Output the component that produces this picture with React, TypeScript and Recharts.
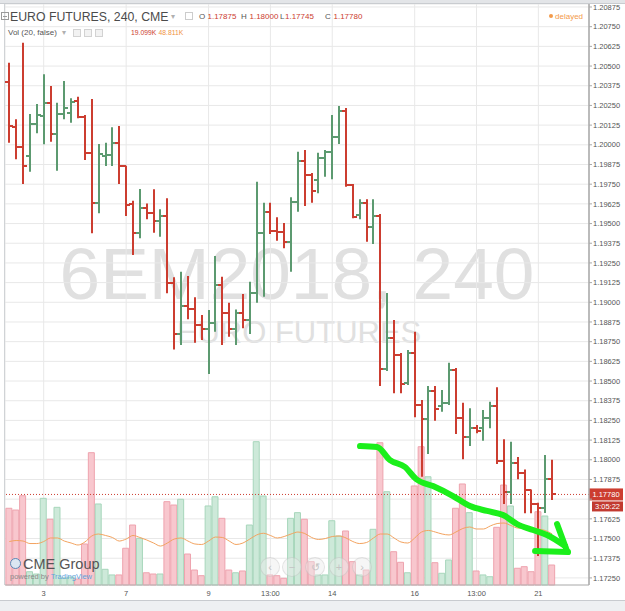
import React from "react";
import {
  ComposedChart,
  Bar,
  Line,
  XAxis,
  YAxis,
  CartesianGrid,
  ReferenceLine,
  Cell,
} from "recharts";

// 6EM2018 (Euro FX June 2018), 240-minute bars
const opens = [
  1.20401, 1.20115, 1.19988, 1.19929, 1.20132, 1.20183, 1.20267, 1.20069, 1.20196, 1.20204,
  1.20278, 1.20175, 1.1995, 1.19628, 1.19932, 1.19935, 1.20013, 1.19865, 1.19622, 1.19442,
  1.19597, 1.19565, 1.19518, 1.19548, 1.1912, 1.18799, 1.18976, 1.18955, 1.18856, 1.18828,
  1.1887, 1.1911, 1.1893, 1.18828, 1.1893, 1.18887, 1.19057, 1.19442, 1.19575, 1.19453,
  1.19448, 1.19385, 1.19639, 1.19899, 1.19808, 1.19776, 1.19914, 1.19956, 1.20048, 1.20217,
  1.19745, 1.19554, 1.19628, 1.19476, 1.19548, 1.18574, 1.18771, 1.18665, 1.18485, 1.1868,
  1.18348, 1.18257, 1.18439, 1.18341, 1.18362, 1.1857, 1.18263, 1.18146, 1.182, 1.182,
  1.18263, 1.18341, 1.17994, 1.17797, 1.17981, 1.17918, 1.17808, 1.17722, 1.17692, 1.17875,
];
const highs = [
  1.20521, 1.20162, 1.20648, 1.20196, 1.20259, 1.20448, 1.20373, 1.20267, 1.20405, 1.20295,
  1.20305, 1.20189, 1.20291, 1.20005, 1.20013, 1.20111, 1.20119, 1.19867, 1.19645, 1.19719,
  1.19628, 1.19717, 1.1959, 1.1966, 1.19159, 1.19194, 1.19167, 1.19032, 1.18919, 1.18951,
  1.19294, 1.19162, 1.18997, 1.18955, 1.19053, 1.19131, 1.19766, 1.19632, 1.19632, 1.1954,
  1.19503, 1.19667, 1.19956, 1.19967, 1.19821, 1.1995, 1.19967, 1.20189, 1.20246, 1.20234,
  1.19751, 1.19654, 1.19654, 1.19654, 1.19561, 1.19059, 1.18887, 1.18678, 1.18697, 1.18813,
  1.18379, 1.18468, 1.18468, 1.18443, 1.18616, 1.18583, 1.18362, 1.18327, 1.18221, 1.18316,
  1.18369, 1.1846, 1.1813, 1.18115, 1.18017, 1.17938, 1.17812, 1.17727, 1.1803, 1.18,
];
const lows = [
  1.20013, 1.19908, 1.19751, 1.19829, 1.20073, 1.20003, 1.2002, 1.19836, 1.20162, 1.2014,
  1.20168, 1.19903, 1.19438, 1.19565, 1.19865, 1.19865, 1.19751, 1.19548, 1.193, 1.19406,
  1.19527, 1.19442, 1.19416, 1.19057, 1.18701, 1.18729, 1.18892, 1.18743, 1.1876, 1.18545,
  1.18813, 1.18729, 1.18781, 1.18729, 1.18835, 1.18799, 1.18997, 1.19035, 1.19434, 1.19391,
  1.19343, 1.19194, 1.19575, 1.19611, 1.19632, 1.19692, 1.19797, 1.19781, 1.20005, 1.19734,
  1.19533, 1.19527, 1.19385, 1.1937, 1.18468, 1.18564, 1.18422, 1.18422, 1.18475, 1.1827,
  1.17892, 1.18037, 1.18248, 1.18305, 1.18348, 1.18164, 1.18003, 1.18087, 1.18168, 1.18121,
  1.182, 1.17973, 1.17719, 1.17719, 1.17876, 1.1766, 1.1766, 1.17389, 1.17662, 1.17745,
];
const closes = [
  1.20119, 1.19984, 1.19865, 1.20132, 1.20189, 1.20263, 1.20069, 1.20196, 1.20232, 1.20274,
  1.20175, 1.1995, 1.19628, 1.19942, 1.19938, 1.20013, 1.19865, 1.19618, 1.19442, 1.19597,
  1.19565, 1.19518, 1.19548, 1.1912, 1.18799, 1.18976, 1.18955, 1.18856, 1.18828, 1.1887,
  1.1911, 1.1893, 1.18828, 1.1893, 1.18887, 1.19057, 1.19442, 1.19575, 1.19453, 1.19448,
  1.19385, 1.19639, 1.19899, 1.19808, 1.19709, 1.19914, 1.19956, 1.20048, 1.20217, 1.19745,
  1.19543, 1.19628, 1.19476, 1.19548, 1.18574, 1.18771, 1.18665, 1.18481, 1.1868, 1.18348,
  1.18257, 1.18439, 1.1832, 1.18362, 1.1857, 1.18263, 1.18146, 1.182, 1.18185, 1.18263,
  1.18341, 1.17994, 1.17797, 1.17981, 1.17918, 1.17808, 1.17722, 1.17692, 1.17875, 1.1778,
];
// volume in thousands of contracts, and its 20-bar average
const volumes = [
  73.3, 71.6, 85.3, 12.7, 10.5, 82.8, 62.8, 74.2, 6.7, 7.6,
  5.7, 39.2, 126.4, 77.4, 15.0, 9.6, 9.6, 35.1, 57.3, 44.6,
  11.7, 10.5, 10.5, 79.6, 76.4, 81.9, 29.6, 14.3, 8.9, 75.5,
  84.3, 63.7, 14.3, 11.7, 13.4, 57.3, 136.9, 85.0, 9.6, 8.9,
  6.4, 63.7, 69.1, 62.8, 22.3, 9.6, 9.6, 61.4, 46.8, 51.6,
  22.3, 9.6, 14.3, 53.2, 135.9, 89.1, 31.8, 21.7, 11.7, 94.6,
  132.1, 103.4, 21.3, 11.2, 23.9, 73.3, 96.5, 69.1, 13.4, 9.6,
  7.9, 55.1, 95.5, 75.5, 16.0, 17.5, 12.7, 70.0, 65.9, 19.099,
];
const volMA = [
  41.5, 42.5, 42.0, 39.6, 39.6, 41.5, 44.9, 44.9, 42.0, 40.1,
  38.2, 41.1, 46.8, 48.7, 47.3, 45.4, 42.0, 43.9, 47.3, 45.4,
  43.0, 40.1, 37.2, 40.1, 43.9, 44.9, 42.0, 39.2, 38.7, 42.0,
  45.8, 45.4, 42.0, 38.7, 40.1, 43.9, 47.8, 49.4, 47.3, 44.9,
  46.3, 48.7, 50.6, 49.2, 45.4, 43.5, 44.4, 46.3, 46.8, 44.9,
  41.5, 39.6, 40.6, 44.9, 48.7, 48.7, 44.9, 41.1, 40.1, 44.9,
  50.6, 52.1, 50.6, 48.7, 47.8, 50.6, 54.0, 55.4, 53.5, 53.5,
  56.4, 58.7, 59.2, 56.8, 54.4, 54.0, 53.7, 53.3, 52.1, 48.811,
];

const tickBars = [5, 17, 29, 38, 47, 59, 68, 77];
const tickLabels = ["3", "7", "9", "13:00", "14", "16", "13:00", "21"];
const priceTicks = [
  1.1725, 1.17375, 1.175, 1.17625, 1.1775, 1.17875, 1.18, 1.18125, 1.1825, 1.18375,
  1.185, 1.18625, 1.1875, 1.18875, 1.19, 1.19125, 1.1925, 1.19375, 1.195, 1.19625,
  1.1975, 1.19875, 1.2, 1.20125, 1.2025, 1.20375, 1.205, 1.20625, 1.2075, 1.20875,
];
// this level's label sits under the last-price tag in the original
const hiddenTick = 1.1775;

// the hand-drawn green arrow, in (bar, price) terms
const arrowBars = [51.04, 53.52, 55.41, 57.59, 59.2, 61.67, 64.58, 67.06, 69.53, 71.86, 73.9, 76.23, 78.26, 80.88];
const arrowPrices = [1.18087, 1.18081, 1.17998, 1.17954, 1.17878, 1.17833, 1.1777, 1.17706, 1.17675, 1.17649, 1.17592, 1.17554, 1.17522, 1.17452];
const headBarsA = [79.72, 81.17];
const headPricesA = [1.17592, 1.17421];
const headBarsB = [76.52, 81.32];
const headPricesB = [1.17421, 1.17414];

const FONT = '"Liberation Sans", Arial, Helvetica, sans-serif';
const UP = "#5c9a70";
const DOWN = "#cc3d30";
const X_DOMAIN: [number, number] = [-0.63, 84.37];

const bars = opens.map((o, k) => ({
  i: k,
  o,
  h: highs[k],
  l: lows[k],
  c: closes[k],
  range: [lows[k], highs[k]],
  vol: volumes[k],
  ma: volMA[k],
}));
const arrow = arrowBars.map((i, k) => ({ i, p: arrowPrices[k] }));
const headA = headBarsA.map((i, k) => ({ i, p: headPricesA[k] }));
const headB = headBarsB.map((i, k) => ({ i, p: headPricesB[k] }));

function OhlcShape(props: any) {
  const { x, y, width, height, payload } = props;
  if (x == null || !payload) return null;
  const cx = Math.round(x + width / 2);
  const top = Math.min(y, y + height);
  const bottom = Math.max(y, y + height);
  const span = payload.h - payload.l || 1;
  const at = (v: number) => Math.round(top + ((payload.h - v) / span) * (bottom - top));
  const color = payload.c >= payload.o ? UP : DOWN;
  return (
    <g stroke={color} strokeWidth={2} fill="none">
      <line x1={cx} x2={cx} y1={top} y2={bottom} />
      <line x1={cx - 4} x2={cx} y1={at(payload.o)} y2={at(payload.o)} />
      <line x1={cx} x2={cx + 4} y1={at(payload.c)} y2={at(payload.c)} />
    </g>
  );
}

function LastPriceTag(props: any) {
  const vb = props.viewBox;
  if (!vb) return null;
  const x = vb.x + vb.width;
  const y = vb.y;
  return (
    <g style={{ fontFamily: FONT }}>
      <rect x={x} y={y - 6} width={34} height={12} fill={DOWN} />
      <text x={x + 17} y={y + 2.8} textAnchor="middle" fill="#fff" fontSize={7.5}>
        {closes[closes.length - 1].toFixed(5)}
      </text>
      <rect x={x + 3} y={y + 7} width={31} height={10} fill="#c23a30" />
      <text x={x + 18.5} y={y + 14.6} textAnchor="middle" fill="#fff" fontSize={7.5}>
        3:05:22
      </text>
    </g>
  );
}

const abs = (s: React.CSSProperties): React.CSSProperties => ({
  position: "absolute",
  whiteSpace: "nowrap",
  ...s,
});

function NavButton({ cx, glyph }: { cx: number; glyph: string }) {
  return (
    <div
      style={abs({
        left: cx - 10,
        top: 557,
        width: 20,
        height: 20,
        borderRadius: 10,
        boxSizing: "border-box",
        border: "1px solid rgba(0,0,0,0.08)",
        background: "rgba(235,235,235,0.45)",
        color: "#c4c4c4",
        fontSize: 11,
        lineHeight: "18px",
        textAlign: "center",
      })}
    >
      {glyph}
    </div>
  );
}

export default function App() {
  return (
    <div
      style={{
        position: "absolute",
        left: 0,
        top: 0,
        width: 625,
        height: 611,
        background: "#fff",
        fontFamily: FONT,
        overflow: "hidden",
      }}
    >
      {/* watermark, behind the chart */}
      <div style={abs({ left: 0, width: 594, top: 236.5, fontSize: 73, lineHeight: "73px", color: "#e0e0e0", textAlign: "center" })}>
        6EM2018, 240
      </div>
      <div style={abs({ left: 0, width: 598, top: 317, fontSize: 31, lineHeight: "31px", color: "#e0e0e0", textAlign: "center" })}>
        EURO FUTURES
      </div>

      <div style={{ position: "absolute", left: 0, top: 0 }}>
        <ComposedChart
          width={625}
          height={611}
          data={bars}
          margin={{ top: 4, right: 0, bottom: 0, left: 5 }}
          style={{ fontFamily: FONT }}
        >
          <CartesianGrid xAxisId="main" yAxisId="price" stroke="#e8e8e8" />
          <XAxis
            xAxisId="main"
            dataKey="i"
            type="number"
            domain={X_DOMAIN}
            allowDataOverflow
            ticks={tickBars}
            interval={0}
            tickFormatter={(v: number) => tickLabels[tickBars.indexOf(v)] ?? ""}
            tickLine={false}
            tickSize={4}
            tickMargin={2}
            height={26}
            axisLine={{ stroke: "#b4b4b4" }}
            tick={{ fill: "#555", fontSize: 7.5 }}
          />
          <XAxis xAxisId="vx" dataKey="i" type="number" domain={X_DOMAIN} allowDataOverflow hide />
          <YAxis
            yAxisId="price"
            orientation="right"
            domain={[1.17205, 1.20894]}
            allowDataOverflow
            ticks={priceTicks}
            interval={0}
            width={36}
            tickSize={3}
            tickMargin={1}
            tickFormatter={(v: number) => (v === hiddenTick ? "" : v.toFixed(5))}
            axisLine={{ stroke: "#a9a9a9", strokeWidth: 1.5 }}
            tickLine={{ stroke: "#a9a9a9" }}
            tick={{ fill: "#555", fontSize: 7.5 }}
          />
          <YAxis yAxisId="vol" domain={[0, 555]} hide />

          <Bar xAxisId="vx" yAxisId="vol" dataKey="vol" barSize={6} isAnimationActive={false}>
            {bars.map((b) => (
              <Cell
                key={b.i}
                fill={b.c >= b.o ? "#cde9d9" : "#f8c7ce"}
                stroke={b.c >= b.o ? "#a7d6bb" : "#eea3ae"}
                strokeWidth={1}
              />
            ))}
          </Bar>
          <Line
            xAxisId="main"
            yAxisId="vol"
            dataKey="ma"
            type="monotone"
            stroke="#f3a35f"
            strokeWidth={1}
            dot={false}
            isAnimationActive={false}
          />
          <ReferenceLine
            xAxisId="main"
            yAxisId="price"
            y={closes[closes.length - 1]}
            stroke={DOWN}
            strokeDasharray="1 2"
            label={<LastPriceTag />}
          />
          <Bar
            xAxisId="main"
            yAxisId="price"
            dataKey="range"
            barSize={6}
            shape={<OhlcShape />}
            isAnimationActive={false}
          />
          <Line data={arrow} xAxisId="main" yAxisId="price" dataKey="p" type="monotone" stroke="#1bef1b" strokeWidth={6} strokeLinecap="round" dot={false} isAnimationActive={false} />
          <Line data={headA} xAxisId="main" yAxisId="price" dataKey="p" stroke="#1bef1b" strokeWidth={6} strokeLinecap="round" dot={false} isAnimationActive={false} />
          <Line data={headB} xAxisId="main" yAxisId="price" dataKey="p" stroke="#1bef1b" strokeWidth={6} strokeLinecap="round" dot={false} isAnimationActive={false} />
        </ComposedChart>
      </div>

      {/* frame */}
      <div style={abs({ left: 0, top: 0, width: 625, height: 3, background: "#e3e5e8", borderBottom: "1px solid #c9ccd0" })} />
      <div style={abs({ left: 4, top: 4, width: 1, height: 581, background: "#d0d3d6" })} />
      <div style={abs({ left: 0, top: 600, width: 625, height: 11, background: "#eef0f2", borderTop: "1px solid #c8cbcf" })} />

      {/* legend */}
      <div style={abs({ left: 1, top: 12, width: 8, height: 8, border: "1px solid #9a9a9a", boxSizing: "border-box" })}>
        <div style={abs({ left: 1, top: 2.5, width: 4, height: 1, background: "#9a9a9a" })} />
      </div>
      <div style={abs({ left: 10, top: 11.3, fontSize: 12.3, lineHeight: "12.3px", color: "#4b4b4b" })}>
        EURO FUTURES, 240, CME
      </div>
      <div style={abs({ left: 171, top: 13, fontSize: 8, lineHeight: "8px", color: "#b0b0b0" })}>▾</div>
      <div style={abs({ left: 185, top: 12, width: 8, height: 8, border: "1px solid #ccc", boxSizing: "border-box" })} />
      {[
        ["O", 199, opens[79]],
        ["H", 241, highs[79]],
        ["L", 280, lows[79]],
        ["C", 325, closes[79]],
      ].map(([k, x, v]) => (
        <React.Fragment key={k as string}>
          <div style={abs({ left: x as number, top: 12.7, fontSize: 8, lineHeight: "8px", color: "#555" })}>{k}</div>
          <div style={abs({ left: (x as number) + (k === "L" ? 5 : 8.5), top: 12.7, fontSize: 8, lineHeight: "8px", color: DOWN })}>
            {(v as number).toFixed(5)}
          </div>
        </React.Fragment>
      ))}
      <div style={abs({ left: 549, top: 14, width: 4, height: 4, borderRadius: 2, background: "#f39a4a" })} />
      <div style={abs({ left: 555, top: 12.5, fontSize: 8, lineHeight: "8px", color: "#f39a4a" })}>delayed</div>

      <div style={abs({ left: 8, top: 29, fontSize: 8, lineHeight: "8px", color: "#555" })}>Vol (20, false)</div>
      <div style={abs({ left: 62, top: 29, fontSize: 8, lineHeight: "8px", color: "#b0b0b0" })}>▾</div>
      {[73, 84, 95].map((x) => (
        <div key={x} style={abs({ left: x, top: 29, width: 8, height: 8, border: "1px solid #d2d2d2", background: "#f2f2f2", boxSizing: "border-box" })} />
      ))}
      <div style={abs({ left: 131, top: 30, fontSize: 6.8, lineHeight: "6.8px", color: DOWN })}>
        {volumes[79].toFixed(3)}K
      </div>
      <div style={abs({ left: 158.5, top: 30, fontSize: 6.8, lineHeight: "6.8px", color: "#f0933f" })}>
        {volMA[79].toFixed(3)}K
      </div>

      {/* branding */}
      <div style={abs({ left: 10, top: 558, width: 11, height: 11, borderRadius: 6, boxSizing: "border-box", border: "1.5px solid #5d86b5", background: "#dbe6f2" })} />
      <div style={abs({ left: 23, top: 556.7, fontSize: 14.5, lineHeight: "14.5px", color: "#555" })}>CME Group</div>
      <div style={abs({ left: 10, top: 572.7, fontSize: 7.5, lineHeight: "7.5px", color: "#8a8a8a" })}>
        powered by <span style={{ color: "#5fa3dc" }}>TradingView</span>
      </div>

      {/* chart navigation */}
      <NavButton cx={270} glyph="‹" />
      <NavButton cx={292} glyph="−" />
      <NavButton cx={315} glyph="↺" />
      <NavButton cx={339} glyph="+" />
      <NavButton cx={362} glyph="›" />
    </div>
  );
}
